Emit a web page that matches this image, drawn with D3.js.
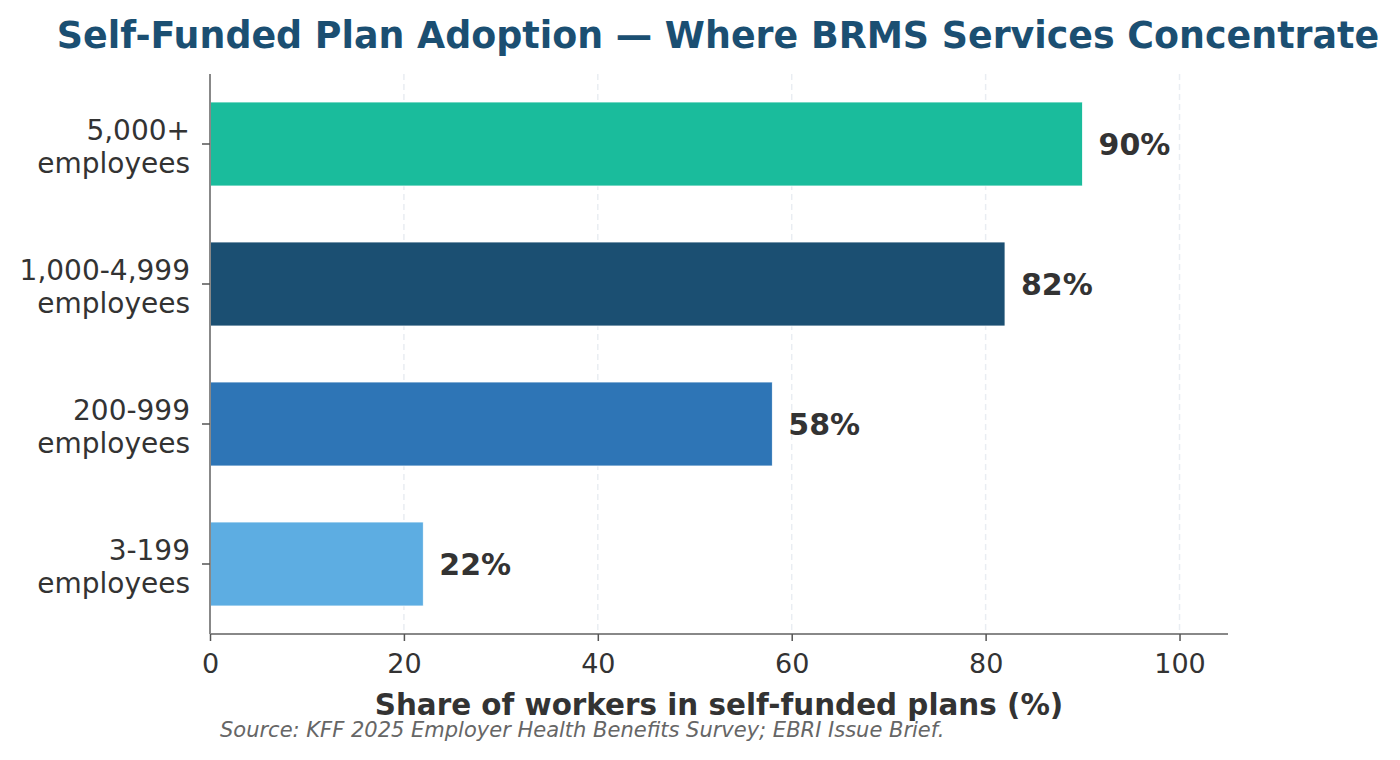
<!DOCTYPE html>
<html>
<head>
<meta charset="utf-8">
<script src="https://cdn.jsdelivr.net/npm/d3@7"></script>
<style>
  body { margin: 0; background: #fff; }
  svg { font-family: "DejaVu Sans", sans-serif; }
</style>
</head>
<body>
<svg id="chart" width="1400" height="760"></svg>
<script>
// chart data
const categories = ["5,000+\nemployees", "1,000-4,999\nemployees", "200-999\nemployees", "3-199\nemployees"];
const shares = [90, 82, 58, 22];
const barColors = ["#1abc9c", "#1b4f72", "#2e75b6", "#5dade2"];
const xTicks = [0, 20, 40, 60, 80, 100];

const margin = {top: 74, right: 172, bottom: 126, left: 210};
const width = 1400 - margin.left - margin.right;
const height = 760 - margin.top - margin.bottom;

const svg = d3.select("#chart");

// title
svg.append("text")
    .attr("x", 718)
    .attr("y", 48)
    .attr("text-anchor", "middle")
    .style("font-size", "36.4px")
    .style("font-weight", "bold")
    .style("fill", "#1b4f72")
    .text("Self-Funded Plan Adoption \u2014 Where BRMS Services Concentrate");

const g = svg.append("g")
    .attr("transform", "translate(" + margin.left + "," + margin.top + ")");

const x = d3.scaleLinear()
    .domain([0, 105])
    .range([0, width]);

const y = d3.scaleBand()
    .domain(categories)
    .range([0, height])
    .paddingInner(0.4)
    .paddingOuter(0.2);

// dashed grid behind bars
g.selectAll(".grid")
    .data(xTicks.filter(d => d > 0))
    .enter()
    .append("line")
    .attr("x1", d => x(d))
    .attr("x2", d => x(d))
    .attr("y1", 0)
    .attr("y2", height)
    .style("stroke", "#e9edf2")
    .style("stroke-width", 1.5)
    .style("stroke-dasharray", "6,4");

// bars
g.selectAll(".bar")
    .data(shares)
    .enter()
    .append("rect")
    .attr("x", x(0))
    .attr("y", (d, i) => y(categories[i]))
    .attr("width", d => x(d) - x(0))
    .attr("height", y.bandwidth())
    .style("fill", (d, i) => barColors[i])
    .style("stroke", "#ffffff")
    .style("stroke-width", 0.8);

// value labels
g.selectAll(".val")
    .data(shares)
    .enter()
    .append("text")
    .attr("x", d => x(d) + 16)
    .attr("y", (d, i) => y(categories[i]) + y.bandwidth() / 2)
    .attr("dy", "0.36em")
    .style("font-size", "30px")
    .style("font-weight", "bold")
    .style("fill", "#333333")
    .text(d => d + "%");

// x axis
const xAxis = d3.axisBottom(x)
    .tickValues(xTicks)
    .tickSize(7)
    .tickPadding(13);

const xg = g.append("g")
    .attr("transform", "translate(0," + height + ")")
    .call(xAxis);
xg.select(".domain").attr("d", "M0,0H" + width).style("stroke", "#888888").style("stroke-width", 2);
xg.selectAll(".tick line").style("stroke", "#555555").style("stroke-width", 1.5);
xg.selectAll(".tick text")
    .style("font-size", "27px")
    .style("fill", "#333333")
    .style("font-family", "DejaVu Sans");

// y axis
const yAxis = d3.axisLeft(y)
    .tickSize(8)
    .tickPadding(12);

const yg = g.append("g").call(yAxis);
yg.select(".domain").attr("d", "M0,0V" + height).style("stroke", "#888888").style("stroke-width", 2);
yg.selectAll(".tick line").style("stroke", "#555555").style("stroke-width", 1.5);
yg.selectAll(".tick text").each(function (d) {
    const t = d3.select(this);
    const lines = d.split("\n");
    t.text(null)
        .style("font-size", "28px")
        .style("fill", "#333333")
        .style("font-family", "DejaVu Sans")
        .attr("dy", null);
    lines.forEach((ln, k) => {
        t.append("tspan")
            .attr("x", -20)
            .attr("y", (k - (lines.length - 1) / 2) * 33 + 2)
            .attr("dy", "0.36em")
            .text(ln);
    });
});

// x label
g.append("text")
    .attr("x", width / 2)
    .attr("y", height + 81)
    .attr("text-anchor", "middle")
    .style("font-size", "29.4px")
    .style("font-weight", "bold")
    .style("fill", "#333333")
    .text("Share of workers in self-funded plans (%)");

// source note
svg.append("text")
    .attr("x", 220)
    .attr("y", 737)
    .style("font-size", "21px")
    .style("font-style", "italic")
    .style("fill", "#666666")
    .text("Source: KFF 2025 Employer Health Benefits Survey; EBRI Issue Brief.");
</script>
</body>
</html>
